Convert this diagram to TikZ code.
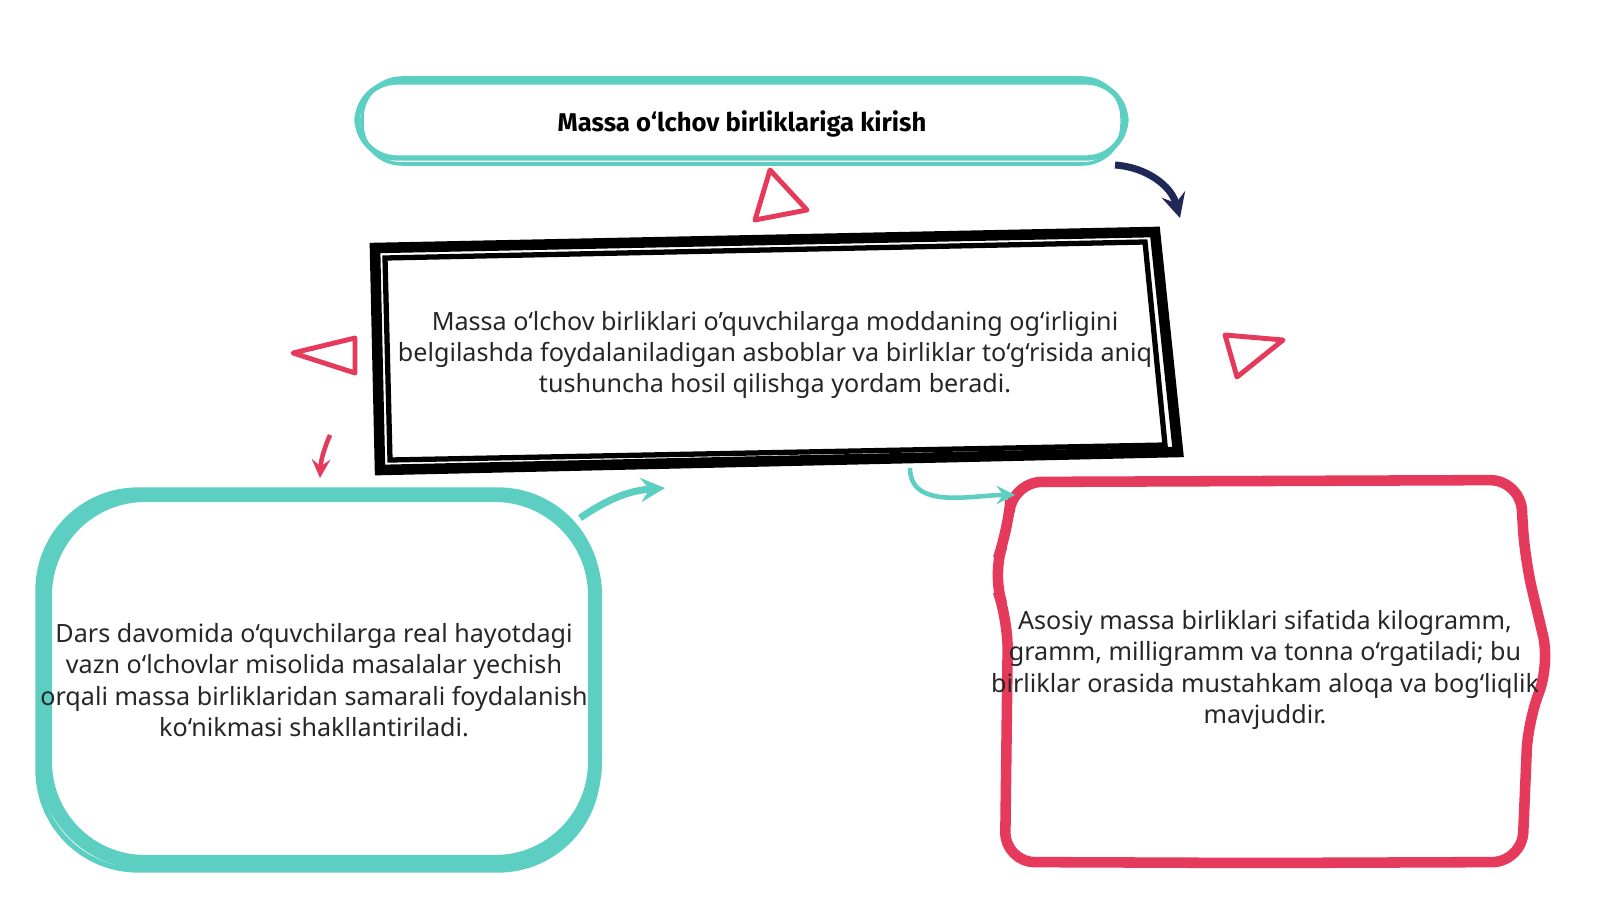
\documentclass[tikz,border=0pt]{standalone}
\usepackage{fontspec}
\setmainfont{Noto Sans}
\newfontfamily\titlefont{Fira Sans}
\usetikzlibrary{positioning}
\definecolor{tealc}{HTML}{5CCFC2}
\definecolor{redc}{HTML}{E63A5C}
\definecolor{navyc}{HTML}{1F2857}
\tikzset{
  txt/.style={align=center,font=\fontsize{7.15}{8.9}\selectfont,text=black!85},
  tri/.style={draw=redc,line width=1.4pt,line join=round},
  arr/.style={->,>=stealth,line width=1.3pt}
}
\begin{document}
\begin{tikzpicture}
\useasboundingbox (0,0) rectangle (16,9);
% title
\draw[tealc,line width=1.5pt,rounded corners=0.4cm] (3.57,7.42) rectangle (11.26,8.18);
\draw[tealc,line width=1pt,rounded corners=0.4cm] (3.62,7.36) rectangle (11.22,8.22);
\node[font=\titlefont\bfseries\fontsize{7.3}{9}\selectfont] (title) at (7.42,7.76) {Massa o‘lchov birliklariga kirish};
% center
\draw[black,line width=3pt] (3.75,6.52) -- (11.55,6.68) -- (11.78,4.48) -- (3.8,4.3) -- cycle;
\draw[black,line width=1.5pt] (3.85,6.42) -- (11.45,6.58) -- (11.65,4.55) -- (3.9,4.4) -- cycle;
\node[txt] (main) at (7.75,5.45) {Massa o‘lchov birliklari o'quvchilarga moddaning og‘irligini\\belgilashda foydalaniladigan asboblar va birliklar to‘g‘risida aniq\\tushuncha hosil qilishga yordam beradi.};
% left
\draw[tealc,line width=4pt,rounded corners=1cm] (0.45,0.38) rectangle (5.95,4.05);
\draw[tealc,line width=1.5pt,rounded corners=1cm] (0.38,0.3) rectangle (5.98,4.1);
\node[txt] (left) at (3.14,2.2) {Dars davomida o‘quvchilarga real hayotdagi\\vazn o‘lchovlar misolida masalalar yechish\\orqali massa birliklaridan samarali foydalanish\\ko‘nikmasi shakllantiriladi.};
% right
\draw[redc,line width=3pt,rounded corners=0.3cm] (12.6,0.37) -- (10.05,0.38) -- (10.08,2.8) -- (9.92,3.25) -- (10.08,3.7) -- (10.12,4.18) -- (15.2,4.2) -- (15.25,3.4) -- (15.5,2.35) -- (15.28,1.8) -- (15.22,0.38) -- cycle;
\node[txt] (right) at (12.65,2.3) {Asosiy massa birliklari sifatida kilogramm,\\gramm, milligramm va tonna o‘rgatiladi; bu\\birliklar orasida mustahkam aloqa va bog‘liqlik\\mavjuddir.};
% triangles
\draw[tri] (7.7,7.3) -- (7.55,6.8) -- (8.07,6.9) -- cycle;
\draw[tri] (3.55,5.62) -- (2.93,5.47) -- (3.55,5.27) -- cycle;
\draw[tri] (12.25,5.65) -- (12.83,5.6) -- (12.37,5.23) -- cycle;
% connectors
\coordinate (a1) at (11.15,7.35); \coordinate (a2) at (11.8,6.82);
\draw[arr,navyc,line width=2pt] (a1) to[bend left=35] (a2);
\coordinate (b1) at (3.3,4.65); \coordinate (b2) at (3.2,4.22);
\draw[arr,redc] (b1) to[bend right=10] (b2);
\coordinate (c1) at (5.8,3.82); \coordinate (c2) at (6.65,4.12);
\draw[arr,tealc,line width=2pt] (c1) to[bend left=15] (c2);
\coordinate (d1) at (9.1,4.32); \coordinate (d2) at (10.15,4.05);
\draw[arr,tealc] (d1) to[out=-90,in=180] (d2);
\end{tikzpicture}
\end{document}
